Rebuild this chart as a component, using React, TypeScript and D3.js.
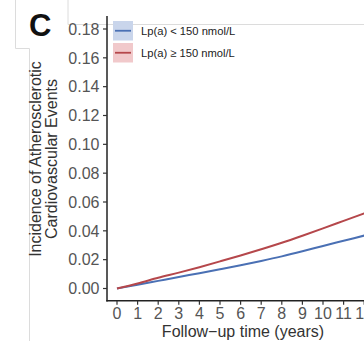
import React, { useRef, useEffect } from 'react';
import * as d3 from 'd3';

// follow-up years and cumulative incidence
const years = [0, 1, 2, 3, 4, 5, 6, 7, 8, 9, 10, 11, 12, 13];
const lowLpa = [0, 0.0026, 0.0053, 0.008, 0.0106, 0.0133, 0.0161, 0.0191, 0.0223, 0.0258, 0.0295, 0.0331, 0.0367, 0.0403];
const highLpa = [0, 0.0035, 0.0074, 0.011, 0.0148, 0.0188, 0.0229, 0.0272, 0.0317, 0.0366, 0.0417, 0.0469, 0.0521, 0.0573];
const yTicks = [0, 0.02, 0.04, 0.06, 0.08, 0.1, 0.12, 0.14, 0.16, 0.18];
const xTicks = [0, 1, 2, 3, 4, 5, 6, 7, 8, 9, 10, 11, 12];
const seriesNames = ['Lp(a) < 150 nmol/L', 'Lp(a) \u2265 150 nmol/L'];

export default function App() {
  const svgRef = useRef<SVGSVGElement>(null);

  useEffect(() => {
    const width = 364;
    const height = 341;
    const svg = d3.select(svgRef.current);
    svg.selectAll('*').remove();
    svg.attr('width', width).attr('height', height).attr('viewBox', [0, 0, width, height].join(' '))
      .style('font-family', '"Liberation Sans", Arial, sans-serif');

    // faint panel frame from the original figure
    svg.append('path').attr('d', 'M68,0V24.5H364').attr('fill', 'none').attr('stroke', '#dcdcdc').attr('stroke-width', 1);
    svg.append('path').attr('d', 'M15.5,0V48.5H29.5V341').attr('fill', 'none').attr('stroke', '#dcdcdc').attr('stroke-width', 1);

    const x = d3.scaleLinear().domain([0, 12]).range([117, 364.2]);
    const y = d3.scaleLinear().domain([0, 0.18]).range([288.5, 29]);

    const axisX = 107;
    const axisY = 300.7;

    const plot = svg.append('g');
    const line = d3.line<number>().x((_, i) => x(years[i])).y(d => y(d)).curve(d3.curveMonotoneX);

    plot.append('path').datum(lowLpa).attr('d', line).attr('fill', 'none')
      .attr('stroke', '#4a70b4').attr('stroke-width', 2);
    plot.append('path').datum(highLpa).attr('d', line).attr('fill', 'none')
      .attr('stroke', '#b5474b').attr('stroke-width', 2);

    // y axis
    const gy = svg.append('g');
    gy.append('line').attr('x1', axisX).attr('x2', axisX).attr('y1', 16).attr('y2', axisY + 0.7)
      .attr('stroke', '#222').attr('stroke-width', 1.5);
    gy.selectAll('line.t').data(yTicks).join('line').attr('class', 't')
      .attr('x1', axisX - 4).attr('x2', axisX).attr('y1', d => y(d)).attr('y2', d => y(d))
      .attr('stroke', '#333').attr('stroke-width', 1.2);
    gy.selectAll('text').data(yTicks).join('text')
      .attr('x', 99.5).attr('y', d => y(d)).attr('dy', '0.36em')
      .attr('text-anchor', 'end').attr('font-size', 16).attr('fill', '#555')
      .text(d => d3.format('.2f')(d));

    // x axis
    const gx = svg.append('g');
    gx.append('line').attr('x1', axisX - 0.7).attr('x2', width).attr('y1', axisY).attr('y2', axisY)
      .attr('stroke', '#222').attr('stroke-width', 1.5);
    gx.selectAll('line.t').data(xTicks).join('line').attr('class', 't')
      .attr('x1', d => x(d)).attr('x2', d => x(d)).attr('y1', axisY).attr('y2', axisY + 4)
      .attr('stroke', '#333').attr('stroke-width', 1.2);
    gx.selectAll('text').data(xTicks).join('text')
      .attr('x', d => x(d)).attr('y', 319)
      .attr('text-anchor', 'middle').attr('font-size', 16).attr('fill', '#555')
      .text(d => d);

    svg.append('text').attr('x', 243).attr('y', 337).attr('text-anchor', 'middle')
      .attr('font-size', 16).attr('fill', '#333').text('Follow\u2212up time (years)');

    const yTitle = svg.append('text').attr('transform', 'translate(0,159) rotate(-90)')
      .attr('text-anchor', 'middle').attr('font-size', 16).attr('fill', '#333');
    yTitle.append('tspan').attr('x', 0).attr('y', 41).text('Incidence of Atherosclerotic');
    yTitle.append('tspan').attr('x', 0).attr('y', 57).text('Cardiovascular Events');

    // panel letter
    svg.append('text').attr('x', 29).attr('y', 36).attr('font-size', 31).attr('font-weight', 'bold')
      .attr('fill', '#111').text('C');

    // legend
    const fills = ['#c9d5eb', '#f1c9cb'];
    const strokes = ['#4a70b4', '#b5474b'];
    const legend = svg.append('g').attr('transform', 'translate(113,21)');
    seriesNames.forEach((name, i) => {
      const g = legend.append('g').attr('transform', `translate(0,${i * 22})`);
      g.append('rect').attr('width', 20).attr('height', 19.5).attr('fill', fills[i]);
      g.append('line').attr('x1', 2).attr('x2', 18).attr('y1', 9.75).attr('y2', 9.75)
        .attr('stroke', strokes[i]).attr('stroke-width', 1.8);
      g.append('text').attr('x', 28).attr('y', 10).attr('dy', '0.35em')
        .attr('font-size', 11.2).attr('fill', '#222').text(name);
    });
  }, []);

  return (
    <div style={{ position: 'fixed', left: 0, top: 0, width: 364, height: 341, overflow: 'hidden', background: '#fff' }}>
      <svg ref={svgRef} style={{ display: 'block' }}></svg>
    </div>
  );
}
